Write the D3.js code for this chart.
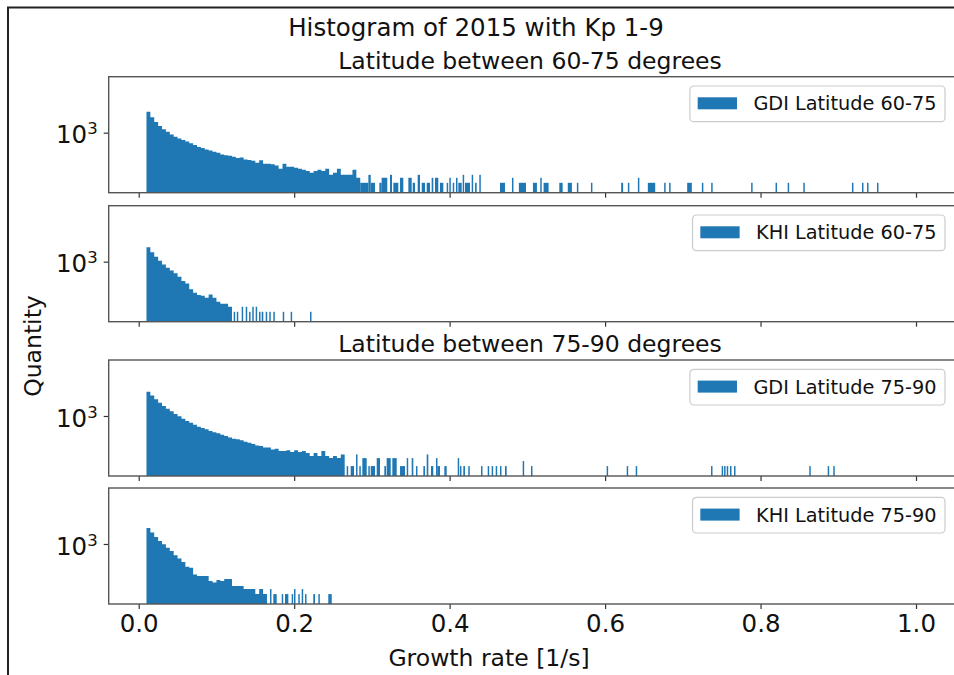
<!DOCTYPE html>
<html>
<head>
<meta charset="utf-8">
<script src="https://cdn.jsdelivr.net/npm/d3@7"></script>
<style>
body { margin: 0; background: #fff; }
svg text { font-family: "DejaVu Sans", sans-serif; fill: #111; }
</style>
</head>
<body>
<svg id="chart" width="954" height="675"></svg>
<script>
// dense part: consecutive bins of width 0.005 starting at 0.01
var firstBin = 0.01;
var binWidth = 0.005;
var spikeWidth = 0.0019;

var gdi6075Dense = [18000, 8500, 4300, 2500, 1580, 1130, 790, 570, 455, 360, 300, 230, 180, 138, 120, 100,
    87, 72, 63, 50, 44, 41, 36, 30, 33, 25, 23, 21, 16, 22, 14, 14, 13, 11, 7, 14, 9, 9, 8, 7, 6, 5, 4, 5,
    6, 5, 7, 3, 4, 7, 3, 3, 3, 6, 2];
// sparse tail: [from, to, count]
var gdi6075Tail = [[0.285, 0.2955, 1], [0.2955, 0.2985, 3], [0.2985, 0.304, 1], [0.3096, 0.3125, 1],
    [0.3125, 0.3198, 2], [0.3233, 0.3259, 3], [0.3276, 0.334, 1], [0.3362, 0.3404, 2], [0.3469, 0.3512, 2],
    [0.3525, 0.3555, 1], [0.3589, 0.3619, 3], [0.3641, 0.3683, 1], [0.3705, 0.3748, 1], [0.3769, 0.379, 2],
    [0.3812, 0.3854, 2], [0.3876, 0.3919, 1], [0.3962, 0.3979, 1], [0.3996, 0.4014, 2], [0.404, 0.404, 1],
    [0.4082, 0.4099, 2], [0.4112, 0.4155, 1], [0.4168, 0.4168, 3], [0.4198, 0.4262, 1], [0.4284, 0.4284, 3],
    [0.4327, 0.4348, 1], [0.4382, 0.44, 3], [0.4648, 0.4712, 1], [0.4802, 0.4802, 2], [0.4891, 0.4982, 1],
    [0.5072, 0.5123, 1], [0.5166, 0.5166, 2], [0.5209, 0.5273, 1], [0.5411, 0.5454, 1], [0.552, 0.5573, 1],
    [0.5637, 0.5637, 1], [0.5818, 0.5818, 1], [0.6207, 0.6232, 1], [0.6293, 0.6293, 1], [0.6422, 0.6422, 2],
    [0.655, 0.6645, 1], [0.676, 0.676, 1], [0.6824, 0.6824, 1], [0.7056, 0.7116, 1], [0.7245, 0.7245, 1],
    [0.7365, 0.7365, 1], [0.7879, 0.7879, 1], [0.8193, 0.8193, 1], [0.8349, 0.8365, 1], [0.855, 0.855, 1],
    [0.9176, 0.9176, 1], [0.9305, 0.9305, 1], [0.937, 0.937, 1], [0.9498, 0.9498, 1]];

var khi6075Dense = [7400, 3700, 2000, 1130, 690, 435, 300, 200, 125, 69, 50, 22, 14, 10, 9, 7, 11, 7, 4, 3, 3, 2];
var khi6075Tail = [[0.1222, 0.1222, 1], [0.1262, 0.1262, 1], [0.1325, 0.1325, 2], [0.1377, 0.1377, 2],
    [0.142, 0.142, 1], [0.1461, 0.1475, 2], [0.1505, 0.1505, 2], [0.1548, 0.1548, 1], [0.1582, 0.1603, 1],
    [0.1634, 0.1634, 1], [0.168, 0.168, 1], [0.1732, 0.1732, 1], [0.1853, 0.1853, 1], [0.1955, 0.1955, 1],
    [0.2204, 0.2204, 1]];

var gdi7590Dense = [28000, 17000, 10000, 6300, 3900, 2750, 1900, 1300, 950, 690, 500, 400, 300, 230, 190, 160,
    125, 105, 91, 76, 63, 52, 44, 40, 35, 29, 25, 21, 17, 16, 13, 13, 10, 11, 8, 8, 9, 7, 9, 7, 8, 6, 4, 6,
    4, 8, 4, 3, 4, 3, 5];
var gdi7590Tail = [[0.2676, 0.2676, 1], [0.2727, 0.277, 1], [0.2796, 0.2812, 5], [0.2838, 0.2838, 1],
    [0.2877, 0.2933, 3], [0.2954, 0.2954, 1], [0.2985, 0.304, 1], [0.3062, 0.3104, 3], [0.316, 0.3182, 1],
    [0.319, 0.3242, 3], [0.3263, 0.3319, 3], [0.3362, 0.3426, 1], [0.3448, 0.3448, 3], [0.3512, 0.3533, 3],
    [0.3567, 0.3567, 1], [0.3662, 0.3683, 1], [0.3705, 0.3726, 5], [0.376, 0.379, 1], [0.3825, 0.3825, 3],
    [0.3842, 0.3876, 1], [0.3932, 0.3962, 1], [0.4104, 0.4104, 3], [0.4133, 0.4133, 1], [0.4176, 0.4198, 1],
    [0.424, 0.424, 1], [0.4404, 0.4404, 1], [0.449, 0.449, 1], [0.4541, 0.4541, 1], [0.4593, 0.4593, 1],
    [0.4648, 0.4648, 1], [0.4712, 0.4734, 1], [0.494, 0.494, 2], [0.5047, 0.5047, 1], [0.602, 0.602, 1],
    [0.6278, 0.6278, 1], [0.6394, 0.6394, 1], [0.7363, 0.7363, 1], [0.75, 0.75, 1], [0.7531, 0.7531, 1],
    [0.7565, 0.7565, 1], [0.7607, 0.7607, 1], [0.7659, 0.7659, 1], [0.8627, 0.8627, 1], [0.8864, 0.8864, 1],
    [0.8936, 0.8936, 1]];

var khi7590Dense = [9000, 4800, 2600, 1500, 950, 600, 380, 210, 137, 83, 44, 38, 15, 12, 12, 12, 6, 5, 7, 6,
    8, 8, 3, 3, 3, 2, 2, 2, 1, 2, 1];
var khi7590Tail = [[0.1689, 0.1689, 2], [0.1732, 0.1775, 1], [0.184, 0.184, 1], [0.1882, 0.1925, 1],
    [0.1968, 0.1968, 1], [0.1998, 0.1998, 2], [0.2053, 0.2053, 1], [0.2097, 0.2097, 2], [0.214, 0.214, 1],
    [0.2246, 0.2268, 1], [0.2311, 0.2311, 1], [0.2439, 0.2483, 1]];

var legendLabels = ["GDI Latitude 60-75", "KHI Latitude 60-75", "GDI Latitude 75-90", "KHI Latitude 75-90"];
var subTitles = ["Latitude between 60-75 degrees", "Latitude between 75-90 degrees"];
var xTicks = [0.0, 0.2, 0.4, 0.6, 0.8, 1.0];
var yTicks = [1000];

var barColor = "#1f77b4";
var panelTops = [76.7, 205.7, 360, 488];
var panelH = 116;
var left = 108.7, right = 960;

var svg = d3.select("#chart");

// frame of the screenshot
svg.append("line").attr("x1", 8).attr("y1", 7).attr("x2", 8).attr("y2", 675)
    .attr("stroke", "#222").attr("stroke-width", 2);
svg.append("line").attr("x1", 7).attr("y1", 7.5).attr("x2", 954).attr("y2", 7.5)
    .attr("stroke", "#222").attr("stroke-width", 2);

var x = d3.scaleLinear().domain([-0.0386, 1.0566]).range([left, right]);
var y = d3.scaleLog().domain([0.255, 2.25e6]).range([panelH, 0]);

// dense bins as one stepped area, so no seams between neighbours
function denseSteps(dense) {
    var pts = dense.map(function (c, i) { return [firstBin + i * binWidth, c]; });
    pts.push([firstBin + dense.length * binWidth, dense[dense.length - 1]]);
    return pts;
}
var area = d3.area().curve(d3.curveStepAfter)
    .x(function (d) { return x(d[0]); })
    .y0(panelH)
    .y1(function (d) { return y(d[1]); });

var panels = [
    {dense: gdi6075Dense, tail: gdi6075Tail},
    {dense: khi6075Dense, tail: khi6075Tail},
    {dense: gdi7590Dense, tail: gdi7590Tail},
    {dense: khi7590Dense, tail: khi7590Tail}
];

panels.forEach(function (p, i) {
    var g = svg.append("g").attr("transform", "translate(0," + panelTops[i] + ")");

    g.append("path").datum(denseSteps(p.dense)).attr("d", area).attr("fill", barColor);

    g.selectAll("rect.bar").data(p.tail).enter().append("rect")
        .attr("class", "bar")
        .attr("x", function (d) { return x(d[0]); })
        .attr("width", function (d) {
            return Math.max(x(d[1]) - x(d[0]), x(spikeWidth) - x(0));
        })
        .attr("y", function (d) { return y(d[2]); })
        .attr("height", function (d) { return panelH - y(d[2]); })
        .attr("fill", barColor);

    // x axis
    var xAxis = d3.axisBottom(x).tickValues(xTicks).tickSize(5).tickPadding(6)
        .tickFormat(i == 3 ? d3.format(".1f") : "");
    var xg = g.append("g").attr("transform", "translate(0," + panelH + ")").call(xAxis);
    xg.select(".domain").remove();
    xg.selectAll("line").attr("stroke", "#333").attr("stroke-width", 1.2);
    xg.selectAll("text").attr("font-size", 24.5).attr("fill", "#111")
        .attr("font-family", "DejaVu Sans");

    // y axis, only the 10^3 tick
    var yAxis = d3.axisLeft(y).tickValues(yTicks).tickSize(5).tickFormat("");
    var yg = g.append("g").call(yAxis).attr("transform", "translate(" + left + ",0)");
    yg.select(".domain").remove();
    yg.selectAll("line").attr("stroke", "#333").attr("stroke-width", 1.2);
    yTicks.forEach(function (t) {
        var tx = g.append("text").attr("x", left - 11).attr("y", y(t) + 10.7)
            .attr("text-anchor", "end").attr("font-size", 24.5);
        tx.append("tspan").text("10");
        tx.append("tspan").attr("dy", -9).attr("font-size", 16.5).text(Math.round(Math.log10(t)));
    });

    // spines
    g.append("rect").attr("x", left).attr("y", 0).attr("width", right - left).attr("height", panelH)
        .attr("fill", "none").attr("stroke", "#555").attr("stroke-width", 1.4);

    // legend
    var lg = g.append("g");
    var lt = lg.append("text").attr("x", 936.5).attr("y", 33.6).attr("text-anchor", "end")
        .attr("font-size", 19.3).text(legendLabels[i]);
    var tw = lt.node().getComputedTextLength();
    var tx0 = 936.5 - tw;
    lg.insert("rect", "text").attr("x", tx0 - 63.5).attr("y", 9.3).attr("width", tw + 72)
        .attr("height", 35.7).attr("rx", 4).attr("fill", "#fff").attr("fill-opacity", 0.8)
        .attr("stroke", "#ccc").attr("stroke-width", 1.2);
    lg.append("rect").attr("x", tx0 - 55.7).attr("y", 20.6).attr("width", 39.3).attr("height", 12)
        .attr("fill", barColor);
});

// titles
svg.append("text").attr("x", 476).attr("y", 36).attr("text-anchor", "middle")
    .attr("font-size", 24.5).text("Histogram of 2015 with Kp 1-9");
svg.append("text").attr("x", 530).attr("y", 69).attr("text-anchor", "middle")
    .attr("font-size", 23.5).text(subTitles[0]);
svg.append("text").attr("x", 530).attr("y", 352).attr("text-anchor", "middle")
    .attr("font-size", 23.5).text(subTitles[1]);

// axis labels
svg.append("text").attr("transform", "translate(41,346) rotate(-90)").attr("text-anchor", "middle")
    .attr("font-size", 23.5).text("Quantity");
svg.append("text").attr("x", 489).attr("y", 666).attr("text-anchor", "middle")
    .attr("font-size", 23.5).text("Growth rate [1/s]");
</script>
</body>
</html>
